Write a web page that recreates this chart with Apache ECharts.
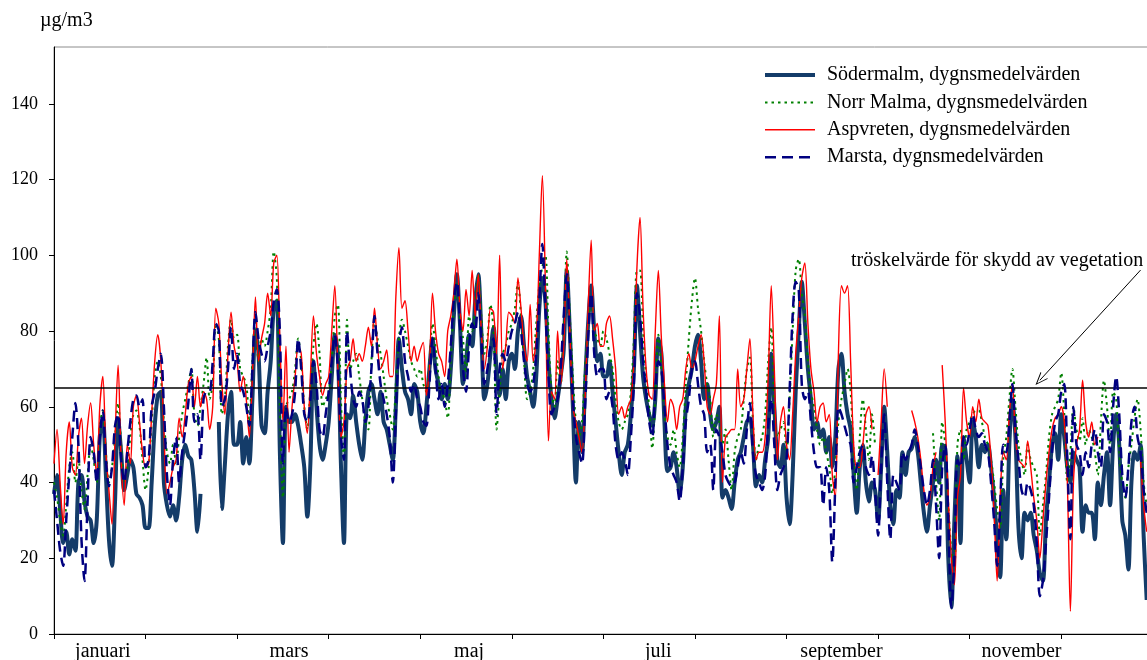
<!DOCTYPE html>
<html>
<head>
<meta charset="utf-8">
<script src="https://cdn.jsdelivr.net/npm/echarts@6/dist/echarts.min.js"></script>
<style>
  html, body { margin: 0; padding: 0; background: #fff; }
  #chart { width: 1147px; height: 660px; }
</style>
</head>
<body>
<div id="chart"></div>
<script>
// Daily means (µg/m3), one value per day from 1 January; null = no measurement.
const sodermalm = [
  37,42,33,24,27,21,25,22,40,42, 35,31,30,24,30,52,57,42,25,18,
  35,57,48,38,42,46,44,37,36,34, 28,28,40,55,63,64,40,34,31,34,
  30,36,46,50,47,46,38,27,37,null, null,null,null,null,56,33,45,58,64,50,
  50,56,45,52,45,62,80,74,55,53, 64,72,86,88,48,24,60,56,56,58,
  55,50,44,31,45,72,60,50,46,50, 56,68,79,74,45,24,58,57,63,56,
  50,46,56,64,66,62,58,64,56,54, 50,46,60,78,70,64,62,58,66,64,
  56,53,60,70,78,70,66,62,66,62, 70,84,95,82,66,72,79,76,88,95,
  80,62,66,74,81,70,63,70,62,72, 74,70,80,84,76,68,64,60,68,86,
  94,88,72,62,57,62,68,75,96,80, 60,40,56,48,66,82,92,80,72,74,
  68,68,72,64,56,48,42,48,50,58, 70,92,80,68,62,58,55,62,78,74,
  56,43,44,48,44,37,44,60,66,70, 76,79,72,62,66,58,54,56,60,36,
  38,36,33,40,46,48,52,56,57,50, 39,42,40,46,52,74,60,46,44,50,
  36,29,42,64,80,93,82,70,62,54, 56,52,54,48,52,44,52,70,74,64,
  58,54,42,32,44,50,40,35,40,38, 30,44,60,48,34,29,38,36,48,42,
  48,49,52,48,40,32,27,34,40,46, 40,50,49,20,7,30,47,24,52,46,
  40,56,52,44,50,48,50,44,36,25, 15,38,25,50,62,52,28,20,32,30,
  32,26,22,16,14,30,40,50,53,46, 58,52,44,40,48,46,44,27,34,32,
  32,25,40,34,42,48,34,50,58,50, 30,26,17,40,48,46,50,26,9
];
const norrMalma = [
  40,36,30,26,34,44,48,40,46,38, 33,42,50,46,40,55,59,48,40,44,
  52,61,50,40,44,52,58,59,55,46, 38,44,56,68,72,68,56,48,45,50,
  45,52,58,62,66,70,58,55,60,66, 73,62,66,82,78,58,62,76,83,78,
  79,70,68,66,56,72,84,72,78,76, 80,86,101,94,60,36,60,62,64,70,
  78,72,60,54,65,76,82,74,60,62, 64,72,84,87,62,46,83,70,72,74,
  68,62,56,54,72,83,78,74,68,62, 58,54,66,78,83,80,76,72,70,68,
  70,66,64,72,82,76,68,64,62,57, 72,86,93,84,78,68,84,80,86,95,
  84,74,78,87,80,54,64,74,76,80, 82,86,93,84,72,62,64,70,82,92,
  97,100,80,64,60,72,66,80,101,84, 68,56,52,56,70,82,88,80,78,76,
  80,78,74,70,62,56,54,56,58,64, 78,96,96,80,68,60,49,62,79,70,
  58,52,50,54,48,44,52,66,78,88, 94,86,80,72,66,62,52,58,56,50,
  54,46,38,48,52,54,62,70,73,56, 46,50,52,58,72,81,60,52,54,56,
  48,62,80,96,99,90,84,72,64,60, 54,50,52,48,44,37,44,56,62,66,
  70,64,48,38,52,62,54,46,58,50, null,null,null,null,null,null,null,null,null,null,
  null,null,null,null,null,null,null,null,53,40, 30,56,50,34,22,18,50,54,46,54,
  56,58,59,59,56,52,50,46,40,33, 28,46,52,62,70,60,50,46,42,50,
  46,44,42,26,34,42,52,58,60,62, 69,58,40,48,60,54,51,57,50,54,
  52,48,42,56,67,60,50,64,62,48, 40,36,44,50,57,62,54,40,34
];
const aspvreten = [
  45,54,40,29,48,56,44,42,52,57, 45,55,61,50,42,60,68,48,38,29,
  52,71,46,34,50,45,60,63,56,48, 44,45,58,72,79,72,54,37,40,44,
  46,57,52,58,66,68,60,68,60,64, 62,54,60,86,82,66,58,74,85,76,
  72,64,68,62,52,68,89,72,78,82, 90,84,98,100,78,56,76,48,60,68,
  76,74,60,53,68,84,74,68,63,66, 68,80,92,70,52,56,70,72,78,72,
  74,72,76,81,76,86,76,70,72,75, 68,68,89,102,86,88,80,72,76,72,
  75,77,63,70,90,80,74,72,68,80, 84,90,99,86,80,91,84,96,84,95,
  80,70,76,86,85,74,100,70,76,85, 84,82,94,86,76,72,87,72,78,100,
  121,92,51,64,62,80,66,76,99,80, 60,56,52,48,62,86,104,80,82,76,
  76,82,84,78,70,58,60,57,60,62, 72,97,110,86,70,63,62,80,96,78,
  66,56,62,60,54,60,62,70,74,70, 72,76,79,72,60,58,62,66,84,40,
  52,53,54,54,70,60,62,70,78,58, 46,48,48,52,68,92,70,46,56,60,
  50,46,58,74,84,94,98,82,70,64, 56,60,61,56,58,42,36,74,92,90,
  92,72,50,44,44,50,58,60,54,null, 42,56,70,60,null,null,null,null,null,null,
  null,59,56,52,46,38,34,36,44,48, null,71,56,36,20,13,36,42,65,56,
  52,60,56,62,57,56,55,46,32,14, 36,48,46,58,66,52,46,45,44,51,
  44,36,30,20,30,40,48,54,57,58, 60,56,40,6,40,50,54,67,56,52,
  56,50,52,null,null,null,null,null,null,null, null,null,null,null,null,null,46,34,27
];
const marsta = [
  38,30,22,18,30,42,52,61,50,25, 14,35,52,48,40,52,59,46,39,44,
  55,58,46,40,48,56,62,63,60,62, 44,46,60,64,70,74,60,42,34,46,
  52,40,48,54,61,70,56,58,46,62, 64,64,72,82,80,60,62,70,81,70,
  74,66,64,60,55,70,85,78,74,72, 76,80,88,91,80,45,60,56,58,64,
  78,70,58,56,62,72,66,54,52,58, 64,72,79,70,52,46,80,70,62,60,
  64,62,56,60,70,84,74,66,62,58, 52,40,58,76,81,72,68,64,66,62,
  60,56,55,66,78,70,62,66,60,66, 76,88,93,82,70,64,76,82,80,90,
  78,66,70,76,78,58,70,74,72,76, 80,82,85,80,72,66,64,66,74,88,
  103,86,68,58,60,62,70,84,95,78, 62,52,48,45,60,78,90,74,68,70,
  70,62,64,60,50,46,48,46,42,52, 66,90,84,72,64,56,52,64,72,70,
  60,50,44,42,40,35,44,56,62,70, 72,66,60,58,48,50,38,54,52,48,
  42,40,39,40,44,48,45,54,61,48, 42,40,38,42,55,62,50,38,42,44,
  46,64,84,93,91,66,62,64,56,48, 44,44,34,44,38,19,40,60,58,55,
  52,50,40,44,48,50,44,42,47,38, 26,44,58,40,25,42,40,38,48,46,
  48,50,54,50,44,38,34,38,46,34, 20,44,50,30,7,20,46,44,52,50,
  54,58,54,52,53,50,48,40,30,18, 34,50,48,56,66,54,46,38,36,40,
  38,34,24,10,14,24,36,48,56,58, 64,66,46,25,60,50,48,42,48,44,
  50,54,48,44,58,56,48,60,68,58, 42,36,44,56,60,52,48,38,32
];

const SERIES_NAMES = [
  'Södermalm, dygnsmedelvärden',
  'Norr Malma, dygnsmedelvärden',
  'Aspvreten, dygnsmedelvärden',
  'Marsta, dygnsmedelvärden'
];
const THRESHOLD = 65;                         // µg/m3, vegetation protection level
const THRESHOLD_TEXT = 'tröskelvärde för skydd av vegetation';
const ARROW_FROM = [355.7, 96.1];             // [day, µg/m3]
const ARROW_TO = [323.4, 67.0];
const Y_TICKS = [0, 20, 40, 60, 80, 100, 120, 140];
const MONTH_LABELS = ['januari', 'mars', 'maj', 'juli', 'september', 'november'];
const LABEL_DAYS = [16, 77, 136, 198, 258, 317];
const TICK_EVERY = 30;
const days = Array.from({ length: 365 }, (_, i) => String(i + 1));

const FONT = '"Liberation Serif", "Times New Roman", serif';
const TXT = { fontFamily: FONT, color: '#000' };

const chart = echarts.init(document.getElementById('chart'), null, { renderer: 'canvas' });

const lineBase = {
  type: 'line',
  symbol: 'none',
  smooth: 0.3,
  connectNulls: false,
  emphasis: { disabled: true },
  silent: true
};

chart.setOption({
  animation: false,
  textStyle: TXT,
  grid: {
    left: 54, top: 47, width: 1111, height: 587,
    outerBoundsMode: 'none',
    show: true, borderColor: '#8c8c8c', borderWidth: 1, backgroundColor: 'transparent'
  },
  xAxis: {
    type: 'category',
    data: days,
    boundaryGap: false,
    axisLine: { lineStyle: { color: '#000', width: 1 } },
    axisTick: { interval: (i) => i % TICK_EVERY === 0, length: 5, lineStyle: { color: '#000' } },
    axisLabel: {
      interval: (i) => LABEL_DAYS.includes(i),
      formatter: (v, i) => { const k = LABEL_DAYS.indexOf(i); return k >= 0 ? MONTH_LABELS[k] : ''; },
      fontSize: 20, margin: 8, ...TXT
    },
    splitLine: { show: false }
  },
  yAxis: {
    type: 'value', min: 0, max: 155, interval: 20,
    axisLine: { show: true, lineStyle: { color: '#000', width: 1 } },
    axisTick: { show: true, length: 5, customValues: Y_TICKS, lineStyle: { color: '#000' } },
    axisLabel: {
      customValues: Y_TICKS,
      formatter: (v) => (Y_TICKS.includes(v) ? String(v) : ''),
      fontSize: 18, margin: 16, ...TXT
    },
    splitLine: { show: false }
  },
  legend: {
    orient: 'vertical',
    left: 763, top: 65, padding: 0,
    itemWidth: 50, itemHeight: 14, itemGap: 7.4,
    selectedMode: false,
    lineStyle: { width: 'inherit' },
    itemStyle: { color: 'transparent', borderWidth: 0, opacity: 0 },
    textStyle: { fontSize: 20, padding: [0, 0, 0, 7], ...TXT },
    data: SERIES_NAMES
  },
  graphic: [
    { type: 'text', left: 40, top: 11, style: { text: 'µg/m3', font: '20px ' + FONT, fill: '#000' } },
    { type: 'text', left: 851, top: 251, style: { text: THRESHOLD_TEXT, font: '20px ' + FONT, fill: '#000' } }
  ],
  series: [
    Object.assign({}, lineBase, {
      name: SERIES_NAMES[0], data: sodermalm, z: 2,
      lineStyle: { color: '#143c69', width: 4 }, itemStyle: { color: '#143c69' }
    }),
    Object.assign({}, lineBase, {
      name: SERIES_NAMES[1], data: norrMalma, z: 3,
      lineStyle: { color: '#008000', width: 2, type: [2.5, 4] }, itemStyle: { color: '#008000' }
    }),
    Object.assign({}, lineBase, {
      name: SERIES_NAMES[2], data: aspvreten, z: 4,
      lineStyle: { color: '#ff0000', width: 1.4 }, itemStyle: { color: '#ff0000' }
    }),
    Object.assign({}, lineBase, {
      name: SERIES_NAMES[3], data: marsta, z: 5,
      lineStyle: { color: '#000080', width: 2.5, type: [11, 6] }, itemStyle: { color: '#000080' },
      markLine: {
        silent: true,
        animation: false,
        symbol: 'none',
        label: { show: false },
        emphasis: { disabled: true },
        data: [
          { yAxis: THRESHOLD, lineStyle: { color: '#000', width: 1.6, type: 'solid' } },
          [
            { coord: ARROW_FROM, symbol: 'none', lineStyle: { color: '#000', width: 1, type: 'solid' } },
            { coord: ARROW_TO, symbol: 'path://M5,0 L10,12 L9,12 L5,2.4 L1,12 L0,12 Z', symbolSize: [10, 13] }
          ]
        ]
      }
    })
  ]
});
</script>
</body>
</html>
